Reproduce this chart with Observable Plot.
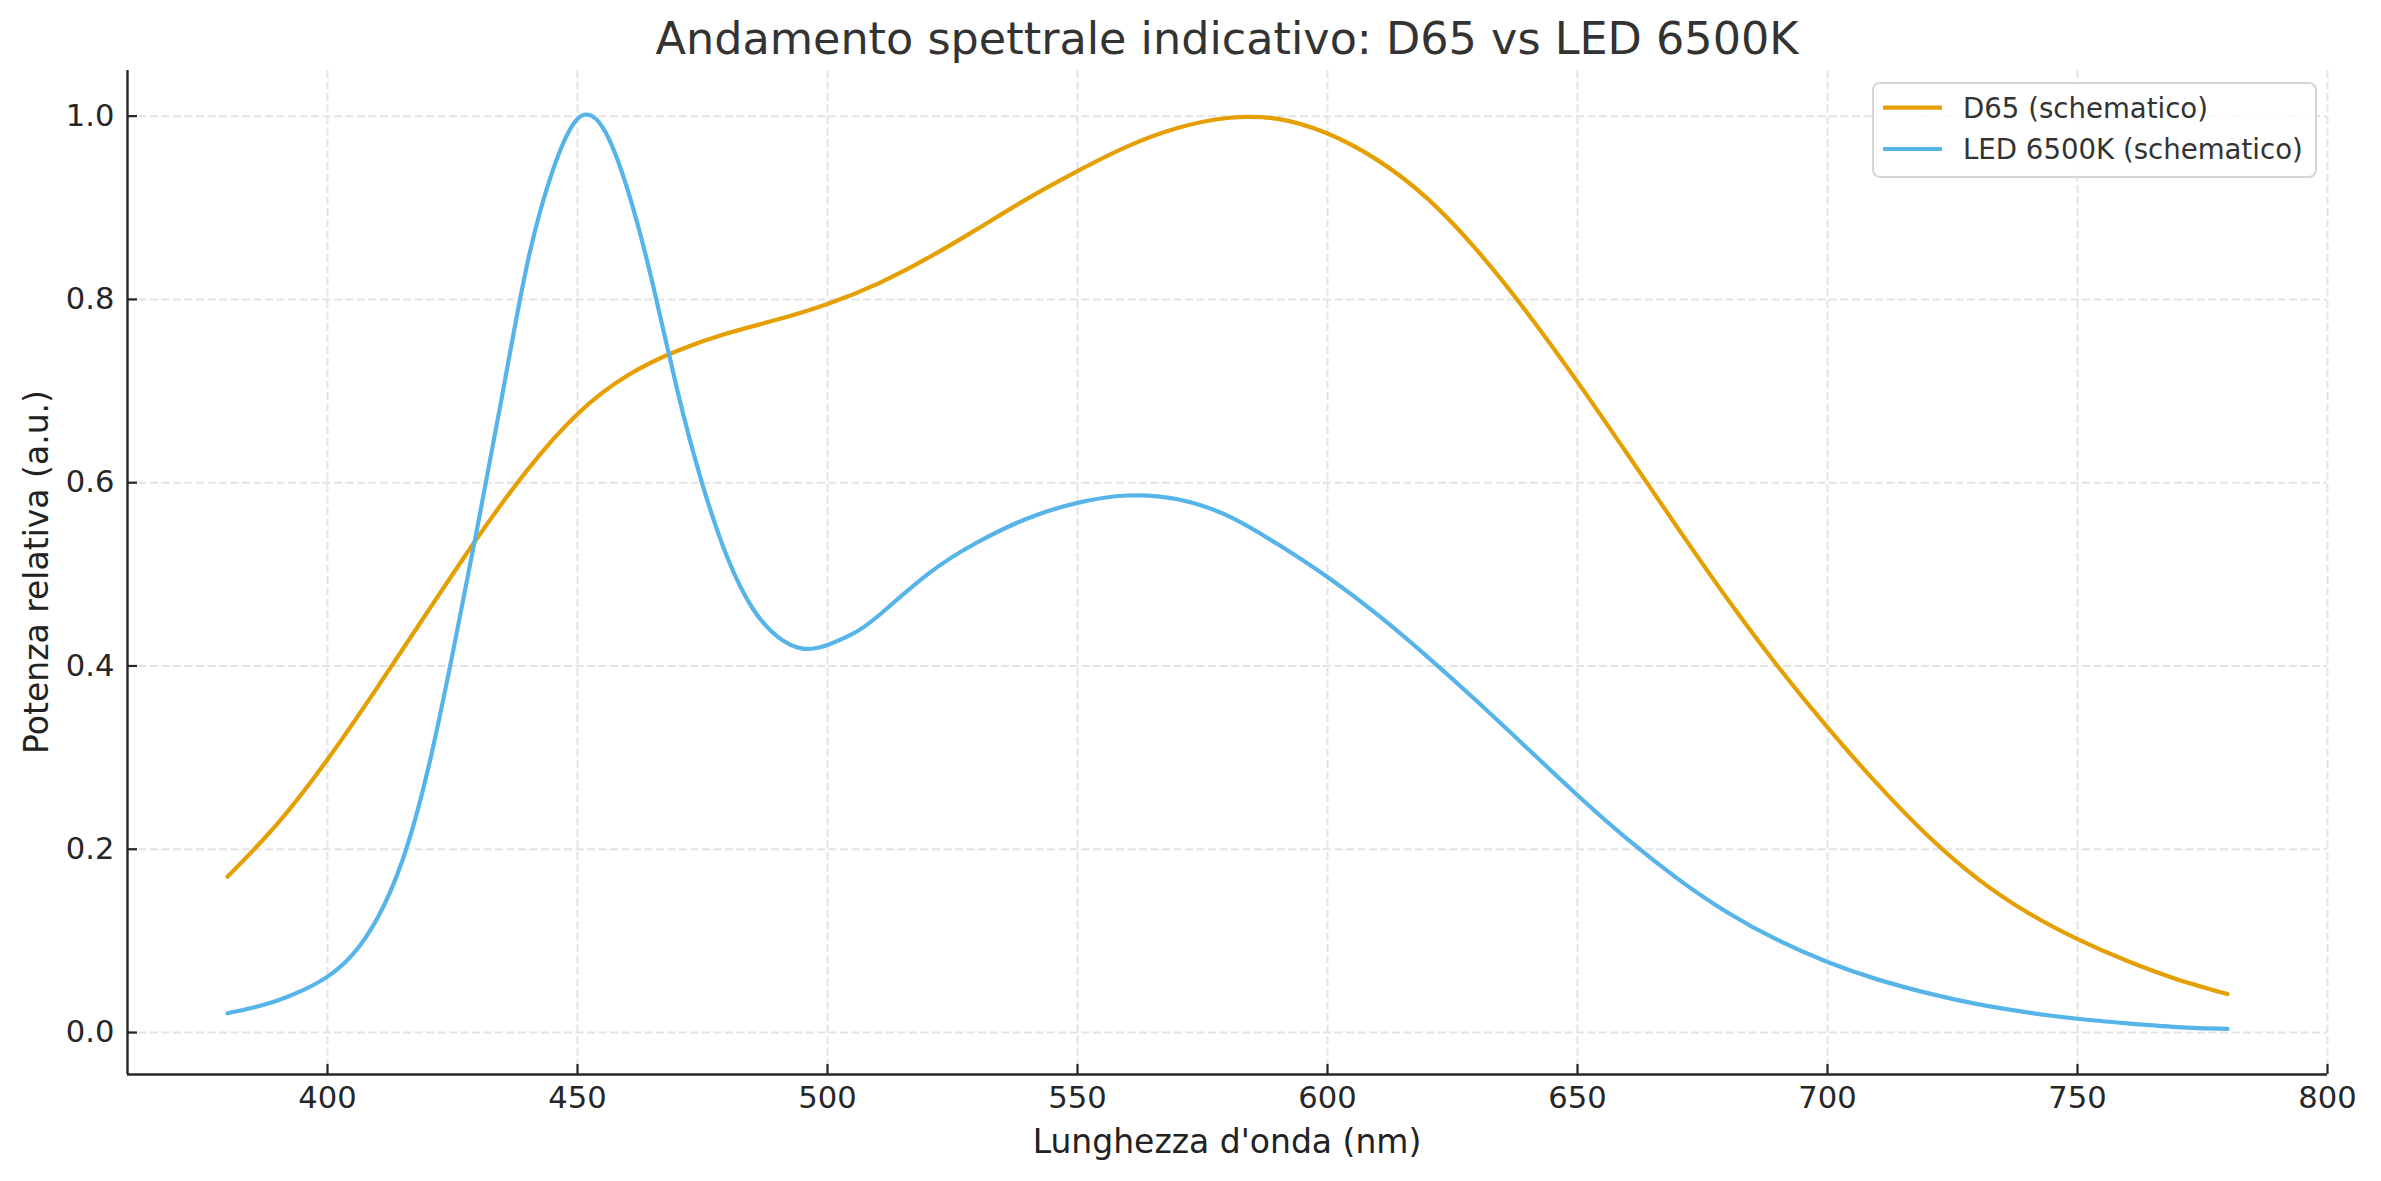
<!DOCTYPE html>
<html>
<head>
<meta charset="utf-8">
<script src="https://cdn.jsdelivr.net/npm/d3@7"></script>
<script src="https://cdn.jsdelivr.net/npm/@observablehq/plot@0.6"></script>
<style>
  html, body { margin: 0; padding: 0; background: #ffffff; }
  #chart { position: relative; width: 2381px; height: 1181px; }
</style>
</head>
<body>
<div id="chart"></div>
<script>
// ---- Data ----
const titleText = "Andamento spettrale indicativo: D65 vs LED 6500K";
const xLabel = "Lunghezza d'onda (nm)";
const yLabel = "Potenza relativa (a.u.)";
const seriesNames = ["D65 (schematico)", "LED 6500K (schematico)"];
const seriesColors = ["#E69F00", "#56B4E9"];

const d65Wavelengths = [380,390,400,410,420,430,440,450,460,470,480,490,500,510,520,530,540,550,560,570,580,590,600,610,620,630,640,650,660,670,680,690,700,710,720,730,740,750,760,770,780];
const d65Values = [0.170,0.228,0.298,0.377,0.459,0.540,0.614,0.675,0.717,0.744,0.763,0.778,0.795,0.817,0.845,0.877,0.910,0.940,0.967,0.987,0.998,0.997,0.981,0.952,0.910,0.853,0.785,0.710,0.631,0.551,0.473,0.400,0.333,0.271,0.215,0.168,0.131,0.102,0.078,0.058,0.042];

const ledWavelengths = [380,385,390,395,400,405,410,415,420,425,430,435,440,445,450,455,460,465,470,475,480,485,490,495,500,505,510,520,530,540,550,560,570,580,590,600,610,620,630,640,650,660,670,680,690,700,710,720,730,740,750,760,770,780];
const ledValues = [0.021,0.027,0.035,0.046,0.061,0.085,0.125,0.188,0.285,0.413,0.552,0.697,0.840,0.940,0.997,0.988,0.920,0.818,0.700,0.598,0.518,0.463,0.432,0.419,0.423,0.435,0.454,0.500,0.535,0.561,0.578,0.586,0.582,0.564,0.533,0.497,0.456,0.410,0.361,0.310,0.259,0.211,0.168,0.131,0.101,0.077,0.058,0.043,0.031,0.022,0.015,0.010,0.006,0.004];

const xTicks = [400,450,500,550,600,650,700,750,800];
const yTicks = [0.0,0.2,0.4,0.6,0.8,1.0];
const xDomain = [360, 800];
const yDomain = [-0.0458, 1.0498];

// tables built from the arrays
const d65 = d65Wavelengths.map((w, i) => ({w, v: d65Values[i]}));
const led = ledWavelengths.map((w, i) => ({w, v: ledValues[i]}));

const W = 2381, H = 1181;
const mL = 127, mR = 54, mT = 70, mB = 107;
const ink = "#262626";
const gridStyle = {stroke: "#e3e3e3", strokeOpacity: 1, strokeWidth: 2, strokeDasharray: "8,3.5"};

const svg = Plot.plot({
  width: W,
  height: H,
  marginLeft: mL,
  marginRight: mR,
  marginTop: mT,
  marginBottom: mB,
  style: {fontFamily: "'DejaVu Sans', sans-serif", fontSize: "30.6px", background: "#ffffff", color: ink},
  x: {domain: xDomain, label: null},
  y: {domain: yDomain, label: null},
  marks: [
    Plot.gridX(xTicks, gridStyle),
    Plot.gridY(yTicks, gridStyle),
    Plot.line(d65, {x: "w", y: "v", stroke: seriesColors[0], strokeWidth: 4.2, curve: "natural"}),
    Plot.line(led, {x: "w", y: "v", stroke: seriesColors[1], strokeWidth: 4.2, curve: "natural"}),
    Plot.ruleX([xDomain[0]], {stroke: ink, strokeWidth: 2.4}),
    Plot.ruleY([yDomain[0]], {stroke: ink, strokeWidth: 2.4}),
    Plot.axisX(xTicks, {tickSize: -10, tickPadding: 22, strokeWidth: 2.2, color: ink, label: null, tickFormat: d => String(d)}),
    Plot.axisY(yTicks, {tickSize: -10, tickPadding: 23, strokeWidth: 2.2, color: ink, label: null, tickFormat: d3.format(".1f")})
  ]
});

const root = d3.select(svg);
const cx = mL + (W - mL - mR) / 2;
const cy = mT + (H - mT - mB) / 2;

// title
root.append("text")
  .attr("x", cx).attr("y", 54)
  .attr("text-anchor", "middle")
  .attr("fill", "#333333")
  .style("font-size", "44.5px")
  .text(titleText);

// x-axis label
root.append("text")
  .attr("x", cx).attr("y", 1153)
  .attr("text-anchor", "middle")
  .attr("fill", "#222222")
  .style("font-size", "33px")
  .text(xLabel);

// y-axis label
root.append("text")
  .attr("transform", `translate(48,${cy}) rotate(-90)`)
  .attr("text-anchor", "middle")
  .attr("fill", "#222222")
  .style("font-size", "33px")
  .text(yLabel);

// legend
const lg = root.append("g");
lg.append("rect")
  .attr("x", 1873).attr("y", 83).attr("width", 443).attr("height", 94)
  .attr("rx", 7).attr("ry", 7)
  .attr("fill", "#ffffff").attr("fill-opacity", 0.85)
  .attr("stroke", "#d6d6d6").attr("stroke-width", 2);
const rowY = [107.7, 149];
seriesNames.forEach((name, i) => {
  lg.append("line")
    .attr("x1", 1883).attr("x2", 1942)
    .attr("y1", rowY[i]).attr("y2", rowY[i])
    .attr("stroke", seriesColors[i]).attr("stroke-width", 4.2);
  lg.append("text")
    .attr("x", 1963).attr("y", rowY[i] + 10)
    .attr("text-anchor", "start")
    .attr("fill", "#333333")
    .style("font-size", "27.6px")
    .text(name);
});

document.getElementById("chart").appendChild(svg);
</script>
</body>
</html>
